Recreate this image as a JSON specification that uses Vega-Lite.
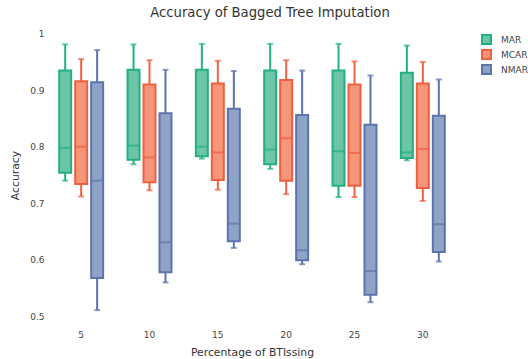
{
  "$schema": "https://vega.github.io/schema/vega-lite/v6.json",
  "width": 410,
  "height": 294,
  "autosize": {"type": "none"},
  "padding": {"left": 47, "top": 28, "right": 71, "bottom": 37},
  "background": "white",
  "title": {
    "text": "Accuracy of Bagged Tree Imputation",
    "font": "DejaVu Sans",
    "fontSize": 13.2,
    "fontWeight": "normal",
    "color": "#333",
    "anchor": "middle",
    "dx": 18,
    "offset": 8
  },
  "data": {
    "values": [
      {"pct": "5", "type": "MAR", "min": 0.740, "q1": 0.754, "med": 0.798, "q3": 0.935, "max": 0.981},
      {"pct": "5", "type": "MCAR", "min": 0.712, "q1": 0.734, "med": 0.800, "q3": 0.916, "max": 0.955},
      {"pct": "5", "type": "NMAR", "min": 0.511, "q1": 0.568, "med": 0.740, "q3": 0.914, "max": 0.971},
      {"pct": "10", "type": "MAR", "min": 0.769, "q1": 0.777, "med": 0.802, "q3": 0.936, "max": 0.981},
      {"pct": "10", "type": "MCAR", "min": 0.723, "q1": 0.737, "med": 0.781, "q3": 0.910, "max": 0.953},
      {"pct": "10", "type": "NMAR", "min": 0.560, "q1": 0.578, "med": 0.631, "q3": 0.859, "max": 0.936},
      {"pct": "15", "type": "MAR", "min": 0.779, "q1": 0.783, "med": 0.800, "q3": 0.936, "max": 0.982},
      {"pct": "15", "type": "MCAR", "min": 0.724, "q1": 0.741, "med": 0.790, "q3": 0.912, "max": 0.952},
      {"pct": "15", "type": "NMAR", "min": 0.621, "q1": 0.633, "med": 0.664, "q3": 0.867, "max": 0.934},
      {"pct": "20", "type": "MAR", "min": 0.761, "q1": 0.769, "med": 0.795, "q3": 0.935, "max": 0.982},
      {"pct": "20", "type": "MCAR", "min": 0.716, "q1": 0.740, "med": 0.815, "q3": 0.918, "max": 0.953},
      {"pct": "20", "type": "NMAR", "min": 0.592, "q1": 0.599, "med": 0.617, "q3": 0.856, "max": 0.935},
      {"pct": "25", "type": "MAR", "min": 0.711, "q1": 0.731, "med": 0.792, "q3": 0.935, "max": 0.982},
      {"pct": "25", "type": "MCAR", "min": 0.711, "q1": 0.731, "med": 0.789, "q3": 0.910, "max": 0.951},
      {"pct": "25", "type": "NMAR", "min": 0.525, "q1": 0.538, "med": 0.580, "q3": 0.839, "max": 0.926},
      {"pct": "30", "type": "MAR", "min": 0.776, "q1": 0.780, "med": 0.790, "q3": 0.931, "max": 0.979},
      {"pct": "30", "type": "MCAR", "min": 0.704, "q1": 0.727, "med": 0.796, "q3": 0.912, "max": 0.950},
      {"pct": "30", "type": "NMAR", "min": 0.597, "q1": 0.614, "med": 0.663, "q3": 0.855, "max": 0.919}
    ]
  },
  "encoding": {
    "x": {
      "field": "pct",
      "type": "nominal",
      "sort": ["5", "10", "15", "20", "25", "30"],
      "scale": {"paddingInner": 0, "paddingOuter": 0},
      "axis": {
        "title": "Percentage of BTIssing",
        "labelAngle": 0,
        "labelPadding": 8,
        "titlePadding": 7
      }
    },
    "xOffset": {
      "field": "type",
      "type": "nominal",
      "sort": ["MAR", "MCAR", "NMAR"],
      "scale": {"paddingInner": 0.25, "paddingOuter": 0.7625}
    }
  },
  "layer": [
    {
      "mark": {"type": "rule", "strokeWidth": 2},
      "encoding": {
        "y": {
          "field": "min",
          "type": "quantitative",
          "scale": {"domain": [0.49, 1.01], "nice": false, "zero": false},
          "axis": {
            "title": "Accuracy",
            "values": [0.5, 0.6, 0.7, 0.8, 0.9, 1],
            "format": "~g",
            "labelPadding": 3,
            "titlePadding": 9
          }
        },
        "y2": {"field": "max"},
        "stroke": {
          "field": "type",
          "type": "nominal",
          "scale": {"domain": ["MAR", "MCAR", "NMAR"], "range": ["#22b07f", "#f0603f", "#5b74ad"]},
          "legend": {
            "title": null,
            "orient": "none",
            "legendX": 434,
            "legendY": 6,
            "symbolType": "square",
            "symbolSize": 81,
            "symbolStrokeWidth": 2,
            "labelFontSize": 9,
            "labelFont": "DejaVu Sans",
            "labelColor": "#444",
            "rowPadding": -2,
            "labelOffset": 9
          }
        }
      }
    },
    {
      "mark": {"type": "bar", "strokeWidth": 2, "fillOpacity": 1},
      "encoding": {
        "y": {"field": "q1", "type": "quantitative"},
        "y2": {"field": "q3"},
        "fill": {
          "field": "type",
          "type": "nominal",
          "scale": {"domain": ["MAR", "MCAR", "NMAR"], "range": ["#6cc5a7", "#f5957a", "#8fa3c6"]},
          "legend": {
            "title": null,
            "orient": "none",
            "legendX": 434,
            "legendY": 6,
            "symbolType": "square",
            "symbolSize": 81,
            "symbolStrokeWidth": 2,
            "labelFontSize": 9,
            "labelFont": "DejaVu Sans",
            "labelColor": "#444",
            "rowPadding": -2,
            "labelOffset": 9
          }
        },
        "stroke": {"field": "type", "type": "nominal"}
      }
    },
    {
      "mark": {"type": "tick", "thickness": 2, "size": 12, "orient": "horizontal"},
      "encoding": {
        "y": {"field": "med", "type": "quantitative"},
        "color": {"field": "type", "type": "nominal", "scale": {"domain": ["MAR", "MCAR", "NMAR"], "range": ["#22b07f", "#f0603f", "#5b74ad"]}, "legend": null}
      }
    },
    {
      "mark": {"type": "tick", "thickness": 2, "size": 6, "orient": "horizontal"},
      "encoding": {
        "y": {"field": "min", "type": "quantitative"},
        "color": {"field": "type", "type": "nominal", "legend": null}
      }
    },
    {
      "mark": {"type": "tick", "thickness": 2, "size": 6, "orient": "horizontal"},
      "encoding": {
        "y": {"field": "max", "type": "quantitative"},
        "color": {"field": "type", "type": "nominal", "legend": null}
      }
    }
  ],
  "config": {
    "view": {"stroke": null},
    "font": "DejaVu Sans",
    "axis": {
      "grid": false,
      "domain": false,
      "ticks": false,
      "labelFont": "DejaVu Sans",
      "labelFontSize": 9,
      "labelColor": "#444",
      "titleFont": "DejaVu Sans",
      "titleFontSize": 10.8,
      "titleFontWeight": "normal",
      "titleColor": "#333"
    }
  }
}
